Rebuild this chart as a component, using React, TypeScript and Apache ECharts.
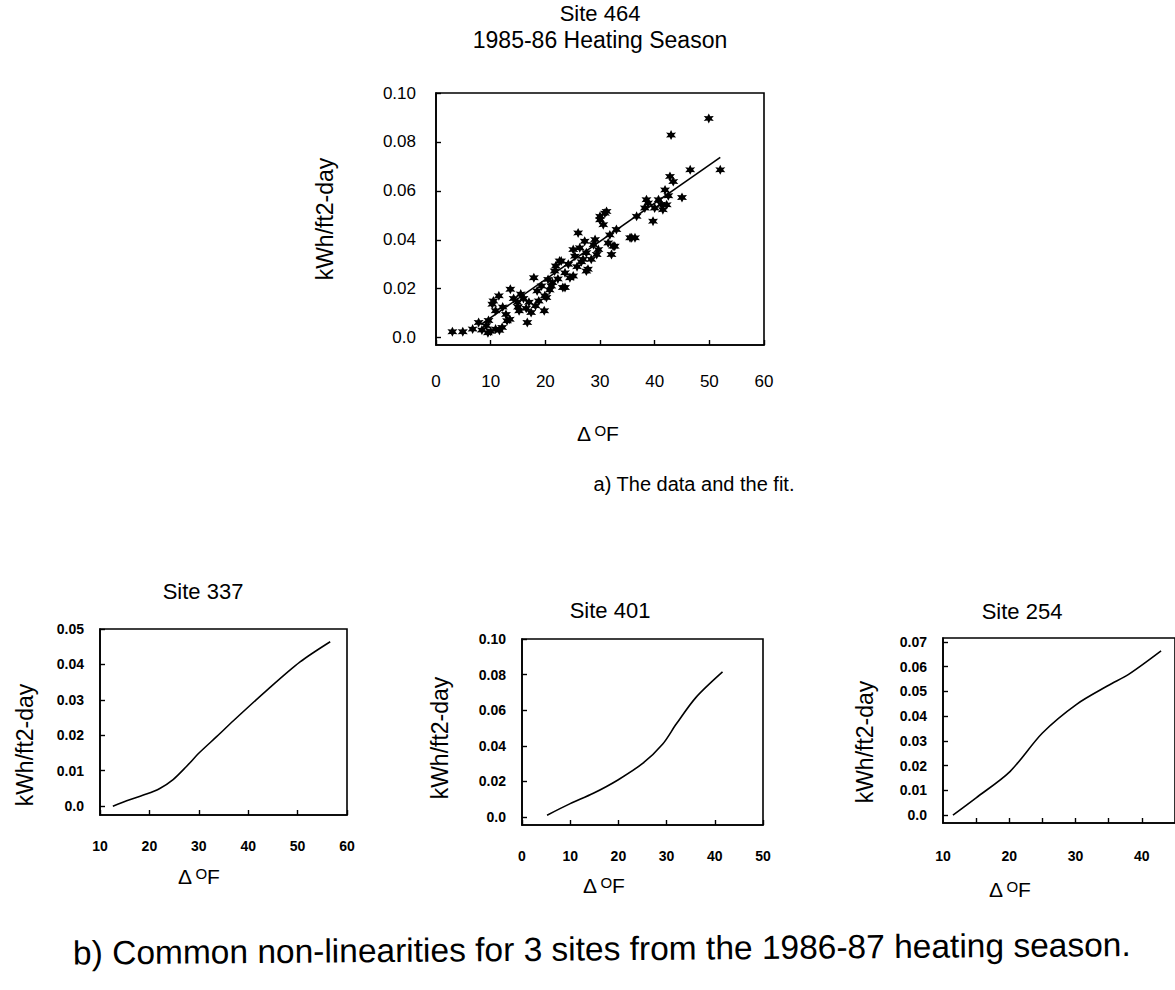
import React, { useEffect, useRef } from "react";
import * as echarts from "echarts";

// ---- Site 464 (1985-86) scatter data ----
const site464DeltaF = [
  3.0, 4.9, 6.7, 7.8, 8.4, 9.2, 9.5, 10.0, 10.9, 11.6, 12.1, 9.6,
  10.3, 10.9, 11.5, 10.5, 12.2, 12.8, 13.0, 13.5, 13.6, 14.2, 14.9, 15.2,
  15.5, 15.0, 16.0, 16.7, 16.5, 17.0, 17.4, 17.9, 18.5, 18.2, 18.8, 19.3,
  19.8, 19.9, 20.2, 20.5, 20.8, 21.1, 21.3, 21.7, 21.9, 22.3, 22.6, 22.9,
  23.2, 23.6, 23.6, 24.2, 24.5, 25.1, 25.1, 25.4, 25.8, 26.0, 26.3, 26.6,
  26.9, 27.2, 27.5, 27.5, 27.8, 28.4, 28.8, 29.1, 29.4, 29.7, 30.0, 30.0,
  30.6, 30.9, 31.2, 31.5, 31.8, 32.1, 32.4, 32.7, 33.0, 35.5, 35.8, 36.4,
  36.7, 38.2, 38.5, 38.8, 39.7, 40.0, 40.7, 41.2, 41.5, 41.9, 42.2, 42.5,
  42.8, 43.0, 43.4, 45.0, 46.5, 49.9, 52.0,
];
const site464Kwh = [
  0.0024, 0.0024, 0.0035, 0.0062, 0.0031, 0.0049, 0.002, 0.0026, 0.0035, 0.003, 0.0042, 0.007,
  0.0137, 0.011, 0.0171, 0.015, 0.0125, 0.0095, 0.0069, 0.0075, 0.0198, 0.016, 0.0144, 0.011,
  0.0178, 0.0125, 0.016, 0.0062, 0.012, 0.0145, 0.0103, 0.0245, 0.0191, 0.013, 0.015, 0.0211,
  0.011, 0.0171, 0.0164, 0.0238, 0.0195, 0.0211, 0.0225, 0.0272, 0.0293, 0.024, 0.0313, 0.0313,
  0.0205, 0.0265, 0.0205, 0.03, 0.0245, 0.0252, 0.036, 0.0333, 0.029, 0.0428, 0.0367, 0.031,
  0.032, 0.0394, 0.0347, 0.0272, 0.028, 0.032, 0.038, 0.0401, 0.034, 0.036, 0.0482, 0.0496,
  0.0462, 0.0509, 0.0516, 0.0387, 0.042, 0.034, 0.0374, 0.0374, 0.0442, 0.0408, 0.0408, 0.0408,
  0.0496, 0.053, 0.0564, 0.055, 0.0476, 0.053, 0.0564, 0.0545, 0.0523, 0.0604, 0.0543, 0.058,
  0.0659, 0.0828, 0.0638, 0.0573, 0.0686, 0.0896, 0.0686,
];
const fitDeltaF = [8.3, 52.0];
const fitKwh = [0.0055, 0.0737];

// ---- 1986-87 fitted curves ----
const site337DeltaF = [12.6, 16.0, 19.4, 22.1, 24.8, 27.5, 30.2, 33.6, 37.0, 43.7, 50.5, 56.6];
const site337Kwh = [0.0, 0.0018, 0.0034, 0.005, 0.0075, 0.0112, 0.0152, 0.0196, 0.0241, 0.0326, 0.0407, 0.0464];
const site401DeltaF = [5.2, 10.0, 14.8, 19.9, 25.1, 29.2, 32.0, 36.1, 41.6];
const site401Kwh = [0.001, 0.0075, 0.0133, 0.0208, 0.0302, 0.041, 0.0522, 0.0672, 0.0815];
const site254DeltaF = [11.5, 15.0, 20.1, 25.0, 30.1, 35.0, 38.0, 42.9];
const site254Kwh = [0.0, 0.007, 0.0176, 0.0332, 0.0447, 0.0525, 0.0569, 0.0664];

// ---- tick values ----
const topXTicks = [0, 10, 20, 30, 40, 50, 60];
const topYTicks = [0, 0.02, 0.04, 0.06, 0.08, 0.1];
const s337XTicks = [10, 20, 30, 40, 50, 60];
const s337YTicks = [0, 0.01, 0.02, 0.03, 0.04, 0.05];
const s401XTicks = [0, 10, 20, 30, 40, 50];
const s401YTicks = [0, 0.02, 0.04, 0.06, 0.08, 0.1];
const s254XLabels = [10, 20, 30, 40];
const s254XTicks = [15, 20, 25, 30, 35, 40];
const s254YTicks = [0, 0.01, 0.02, 0.03, 0.04, 0.05, 0.06, 0.07];

// ---- texts ----
const title464 = "Site 464";
const season464 = "1985-86 Heating Season";
const yName = "kWh/ft2-day";
const captionA = "a) The data and the fit.";
const captionB = "b) Common non-linearities for 3 sites from the 1986-87 heating season.";

const FONT = "'Liberation Sans', Arial, Helvetica, sans-serif";
const STAR =
  "path://M0 -10 L-2.5 -4.33 L-8.66 -5 L-5 0 L-8.66 5 L-2.5 4.33 L0 10 L2.5 4.33 L8.66 5 L5 0 L8.66 -5 L2.5 -4.33 Z";

const fmtY = (v: number) => (v === 0 ? "0.0" : v.toFixed(2));

function xAxisCfg(gridIndex: number, min: number, max: number, labels: number[], ticks: number[], fontSize: number, bold: boolean, margin: number) {
  return {
    type: "value",
    gridIndex,
    min,
    max,
    splitLine: { show: false },
    axisLine: { show: true, onZero: false, lineStyle: { color: "#000", width: 1.6 } },
    axisTick: { show: true, inside: true, length: 5, customValues: ticks, lineStyle: { color: "#000", width: 1.4 } },
    axisLabel: {
      show: true,
      customValues: labels,
      margin,
      color: "#000",
      fontSize,
      fontWeight: bold ? "bold" : "normal",
      fontFamily: FONT,
      formatter: (v: number) => String(v),
    },
  };
}

function yAxisCfg(gridIndex: number, min: number, max: number, ticks: number[], fontSize: number, bold: boolean, margin: number) {
  return {
    type: "value",
    gridIndex,
    min,
    max,
    splitLine: { show: false },
    axisLine: { show: true, onZero: false, lineStyle: { color: "#000", width: 1.6 } },
    axisTick: { show: true, inside: true, length: 5, customValues: ticks, lineStyle: { color: "#000", width: 1.4 } },
    axisLabel: {
      show: true,
      customValues: ticks,
      margin,
      color: "#000",
      fontSize,
      fontWeight: bold ? "bold" : "normal",
      fontFamily: FONT,
      formatter: fmtY,
    },
  };
}

const zip = (xs: number[], ys: number[]) => xs.map((x, i) => [x, ys[i]]);

function txt(text: string, x: number, y: number, size: number, opts: any = {}) {
  return {
    type: "text",
    x,
    y,
    rotation: opts.rotation || 0,
    silent: true,
    style: {
      text,
      x: 0,
      y: 0,
      fill: "#000",
      font: `${opts.weight || "normal"} ${size}px ${FONT}`,
      align: opts.align || "center",
      textAlign: opts.align || "center",
      verticalAlign: "middle",
      textVerticalAlign: "middle",
    },
  };
}

function deltaF(x: number, y: number) {
  return {
    type: "text",
    x,
    y,
    silent: true,
    style: {
      text: "{d|Δ} {o|O}{f|F}",
      x: 0,
      y: 0,
      align: "center",
      textAlign: "center",
      verticalAlign: "middle",
      textVerticalAlign: "middle",
      rich: {
        d: { fontSize: 21, fontFamily: FONT, fill: "#000", color: "#000" },
        o: { fontSize: 15, fontFamily: FONT, fill: "#000", color: "#000", padding: [0, 0, 6, 0] },
        f: { fontSize: 21, fontFamily: FONT, fill: "#000", color: "#000" },
      },
    },
  };
}

const curve = (idx: number, xs: number[], ys: number[]) => ({
  type: "line",
  xAxisIndex: idx,
  yAxisIndex: idx,
  showSymbol: false,
  smooth: 0.3,
  lineStyle: { color: "#000", width: 1.6 },
  data: zip(xs, ys),
});

export default function App() {
  const ref = useRef<HTMLDivElement>(null);
  useEffect(() => {
    if (!ref.current) return;
    const chart = echarts.init(ref.current, undefined, { renderer: "svg" });
    const gridStyle = { show: true, borderColor: "#000", borderWidth: 1.6, backgroundColor: "transparent" };
    const option: any = {
      animation: false,
      backgroundColor: "#fff",
      grid: [
        { ...gridStyle, left: 436, top: 93, width: 328, height: 252 },
        { ...gridStyle, left: 100, top: 629, width: 247, height: 186 },
        { ...gridStyle, left: 522, top: 639, width: 241, height: 186 },
        { ...gridStyle, left: 943, top: 638, width: 238, height: 185 },
      ],
      xAxis: [
        xAxisCfg(0, 0, 60, topXTicks, topXTicks, 17, false, 28),
        xAxisCfg(1, 10, 60, s337XTicks, s337XTicks, 14, true, 24),
        xAxisCfg(2, 0, 50, s401XTicks, s401XTicks, 14, true, 24),
        xAxisCfg(3, 10, 45, s254XLabels, s254XTicks, 14, true, 26),
      ],
      yAxis: [
        yAxisCfg(0, -0.003, 0.1, topYTicks, 17, false, 20),
        yAxisCfg(1, -0.0025, 0.05, s337YTicks, 14, true, 16),
        yAxisCfg(2, -0.0045, 0.1, s401YTicks, 14, true, 16),
        yAxisCfg(3, -0.0032, 0.0716, s254YTicks, 14, true, 16),
      ],
      series: [
        {
          type: "scatter",
          xAxisIndex: 0,
          yAxisIndex: 0,
          symbol: STAR,
          symbolSize: 10,
          itemStyle: { color: "#000", opacity: 1 },
          data: zip(site464DeltaF, site464Kwh),
        },
        {
          type: "line",
          xAxisIndex: 0,
          yAxisIndex: 0,
          showSymbol: false,
          lineStyle: { color: "#000", width: 1.6 },
          data: zip(fitDeltaF, fitKwh),
        },
        curve(1, site337DeltaF, site337Kwh),
        curve(2, site401DeltaF, site401Kwh),
        curve(3, site254DeltaF, site254Kwh),
      ],
      graphic: [
        txt(title464, 600, 13, 22),
        txt(season464, 600, 40, 23),
        txt(yName, 325, 219, 23, { rotation: Math.PI / 2 }),
        deltaF(598, 433),
        txt(captionA, 694, 484, 20),
        txt("Site 337", 203, 591, 22),
        txt("Site 401", 610, 610, 22),
        txt("Site 254", 1022, 611, 22),
        txt(yName, 25, 745, 23, { rotation: Math.PI / 2 }),
        txt(yName, 440, 738, 23, { rotation: Math.PI / 2 }),
        txt(yName, 865, 742, 23, { rotation: Math.PI / 2 }),
        deltaF(199, 876),
        deltaF(604, 885),
        deltaF(1010, 889),
        txt(captionB, 73, 953, 33.5, { align: "left", rotation: 0.008 }),
      ],
    };
    chart.setOption(option);
    return () => chart.dispose();
  }, []);
  return (
    <div
      ref={ref}
      style={{ position: "absolute", left: 0, top: 0, width: 1175, height: 990, overflow: "hidden", background: "#fff" }}
    />
  );
}
